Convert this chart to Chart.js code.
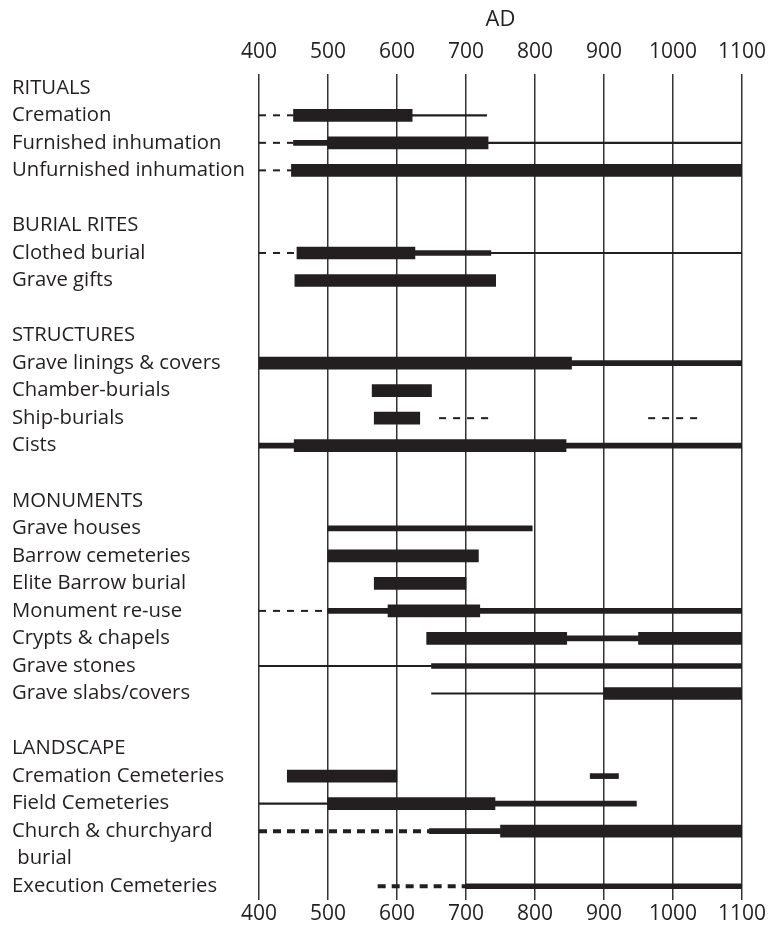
<!DOCTYPE html>
<html>
<head>
<meta charset="utf-8">
<title>Burial practices AD 400-1100</title>
<script src="https://cdn.jsdelivr.net/npm/chart.js@4.4.1/dist/chart.umd.min.js"></script>
<style>
  body { margin: 0; background: #fff; }
  #wrap { width: 775px; height: 930px; }
</style>
</head>
<body>
<div id="wrap"><canvas id="timeline"></canvas></div>
<script>
// rows, top to bottom (blank strings are spacer rows)
const categories = [
  "RITUALS", "Cremation", "Furnished inhumation", "Unfurnished inhumation", "",
  "BURIAL RITES", "Clothed burial", "Grave gifts", "",
  "STRUCTURES", "Grave linings & covers", "Chamber-burials", "Ship-burials", "Cists", "",
  "MONUMENTS", "Grave houses", "Barrow cemeteries", "Elite Barrow burial", "Monument re-use",
  "Crypts & chapels", "Grave stones", "Grave slabs/covers", "",
  "LANDSCAPE", "Cremation Cemeteries", "Field Cemeteries", "Church & churchyard", " burial",
  "Execution Cemeteries"
];

const yearTicks = [400, 500, 600, 700, 800, 900, 1000, 1100];

// [row, from, to] in years AD
const thickSpans = [
  ["Cremation", 450, 622],
  ["Furnished inhumation", 500, 732],
  ["Unfurnished inhumation", 447, 1100],
  ["Clothed burial", 455, 626],
  ["Grave gifts", 452, 743],
  ["Grave linings & covers", 400, 853],
  ["Chamber-burials", 564, 650],
  ["Ship-burials", 567, 633],
  ["Cists", 451, 845],
  ["Barrow cemeteries", 500, 718],
  ["Elite Barrow burial", 567, 700],
  ["Monument re-use", 587, 720],
  ["Crypts & chapels", 643, 846],
  ["Crypts & chapels", 950, 1100],
  ["Grave slabs/covers", 900, 1100],
  ["Cremation Cemeteries", 441, 600],
  ["Field Cemeteries", 500, 742],
  ["Church & churchyard", 750, 1100]
];

const mediumSpans = [
  ["Furnished inhumation", 450, 500],
  ["Clothed burial", 626, 736],
  ["Grave linings & covers", 853, 1100],
  ["Cists", 400, 451],
  ["Cists", 845, 1100],
  ["Grave houses", 500, 796],
  ["Monument re-use", 500, 587],
  ["Monument re-use", 720, 1100],
  ["Crypts & chapels", 846, 950],
  ["Grave stones", 650, 1100],
  ["Cremation Cemeteries", 880, 921],
  ["Field Cemeteries", 742, 947],
  ["Church & churchyard", 647, 750],
  ["Execution Cemeteries", 700, 1100]
];

const thinSpans = [
  ["Cremation", 622, 730],
  ["Furnished inhumation", 732, 1100],
  ["Clothed burial", 736, 1100],
  ["Grave stones", 400, 650],
  ["Grave slabs/covers", 650, 900],
  ["Field Cemeteries", 400, 500]
];

const dashedSpans = [
  ["Cremation", 400, 450],
  ["Furnished inhumation", 400, 450],
  ["Unfurnished inhumation", 400, 447],
  ["Clothed burial", 400, 455],
  ["Ship-burials", 661, 739],
  ["Ship-burials", 964, 1035],
  ["Monument re-use", 400, 500]
];

const heavyDashedSpans = [
  ["Church & churchyard", 400, 647],
  ["Execution Cemeteries", 572, 700]
];

const ink = "#231f20";
const family = "'Open Sans', sans-serif";

function barSet(spans, thickness) {
  return {
    type: "bar",
    data: spans.map(([row, from, to]) => ({ y: row, x: [from, to] })),
    backgroundColor: ink,
    borderWidth: 0,
    barThickness: thickness,
    grouped: false
  };
}

function dashSets(spans, width, dash) {
  return spans.map(([row, from, to]) => ({
    type: "line",
    data: [{ x: from, y: row }, { x: to, y: row }],
    borderColor: ink,
    borderWidth: width,
    borderDash: dash,
    borderCapStyle: "butt",
    pointRadius: 0,
    fill: false
  }));
}

const tickFont = { family, size: 21 };
const yearLabel = (v) => String(v);

new Chart(document.getElementById("timeline"), {
  type: "bar",
  data: {
    labels: categories,
    datasets: [
      barSet(thickSpans, 12),
      barSet(mediumSpans, 5),
      barSet(thinSpans, 1.5),
      ...dashSets(dashedSpans, 2, [7, 7]),
      ...dashSets(heavyDashedSpans, 4, [8, 6])
    ]
  },
  options: {
    indexAxis: "y",
    responsive: true,
    maintainAspectRatio: false,
    animation: false,
    devicePixelRatio: 1,
    layout: { padding: { left: 12, right: 33, top: 0, bottom: 0 } },
    plugins: { legend: { display: false }, tooltip: { enabled: false } },
    scales: {
      x: {
        type: "linear",
        position: "top",
        min: 400,
        max: 1100,
        afterBuildTicks: (axis) => { axis.ticks = yearTicks.map((v) => ({ value: v })); },
        afterFit: (axis) => { axis.height = 74; },
        grid: { color: "#333", lineWidth: 1.5, drawTicks: false, tickLength: 0 },
        border: { display: false },
        ticks: { color: ink, font: tickFont, padding: 9, maxRotation: 0, callback: yearLabel },
        title: { display: true, text: "AD", color: ink, font: { family, size: 22 }, padding: { top: 7, bottom: 0 } }
      },
      x2: {
        type: "linear",
        position: "bottom",
        min: 400,
        max: 1100,
        afterBuildTicks: (axis) => { axis.ticks = yearTicks.map((v) => ({ value: v })); },
        afterFit: (axis) => { axis.height = 30; },
        grid: { display: false, drawTicks: false, tickLength: 0 },
        border: { display: false },
        ticks: { color: ink, font: tickFont, padding: 1, maxRotation: 0, callback: yearLabel }
      },
      y: {
        type: "category",
        offset: true,
        afterFit: (axis) => { axis.width = 247; },
        grid: { display: false, drawTicks: false },
        border: { display: false },
        ticks: { color: ink, font: { family, size: 20.3 }, autoSkip: false, crossAlign: "far", padding: 0 }
      }
    }
  }
});
</script>
</body>
</html>
